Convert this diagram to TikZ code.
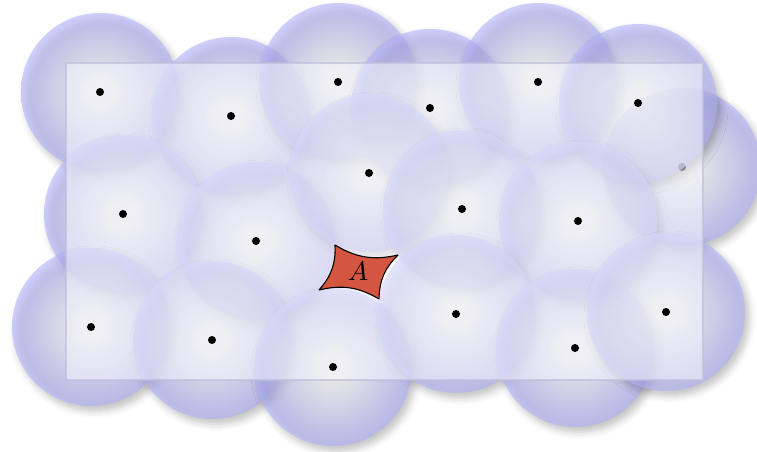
\documentclass[tikz,border=0pt]{standalone}
\usetikzlibrary{shadows.blur}
\definecolor{ballmid}{RGB}{185,185,255}
\definecolor{balledge}{RGB}{108,110,232}
\definecolor{framefill}{RGB}{246,246,255}
\definecolor{areared}{RGB}{212,86,64}
\pgfdeclareradialshading{glow}{\pgfpoint{0bp}{0bp}}{color(0bp)=(white); color(4bp)=(white); color(22bp)=(ballmid); color(50bp)=(balledge)}
\begin{document}
\begin{tikzpicture}[x=1pt,y=-1pt,
  ball/.style={circle, minimum size=158pt, inner sep=0pt, shading=glow, fill opacity=0.6,
    blur shadow={shadow xshift=4pt, shadow yshift=-5pt, shadow blur radius=7pt, shadow opacity=40}},
  dot/.style={circle, fill=black, minimum size=8pt, inner sep=0pt},
  frame/.style={draw=black!55!blue!25, draw opacity=0.7, fill=framefill, fill opacity=0.55, line width=1.2pt},
  region/.style={fill=areared, draw=black, line width=1.1pt, line join=round}]
\useasboundingbox (0,0) rectangle (757,452);
% circles
\node[ball] (c7) at (682,167) {};
\node[dot] (p7) at (682,167) {};
\foreach \i/\x/\y in {1/100/92, 2/231/116, 3/338/82, 4/430/108, 5/538/82, 6/638/103,
   8/123/214, 9/256/241, 10/369/173, 11/462/209, 12/578/221,
   13/91/327, 14/212/340, 15/333/367, 16/456/314, 17/575/348, 18/666/312}
  {\node[ball] (c\i) at (\x,\y) {};}
% frame
\draw[frame] (66,63) rectangle (703,380);
% dots
\foreach \i/\x/\y in {1/100/92, 2/231/116, 3/338/82, 4/430/108, 5/538/82, 6/638/103,
   8/123/214, 9/256/241, 10/369/173, 11/462/209, 12/578/221,
   13/91/327, 14/212/340, 15/333/367, 16/456/314, 17/575/348, 18/666/312}
  {\node[dot] (p\i) at (\x,\y) {};}
% uncovered region
\coordinate (tl) at (335,245);
\coordinate (tr) at (398,255);
\coordinate (br) at (379,299);
\coordinate (bl) at (319,290);
\draw[region] (tl) to[bend right=22] (tr) to[bend right=22] (br) to[bend right=22] (bl) to[bend right=22] cycle;
\node[scale=2.7] (lblA) at (358,271) {$A$};
\end{tikzpicture}
\end{document}
